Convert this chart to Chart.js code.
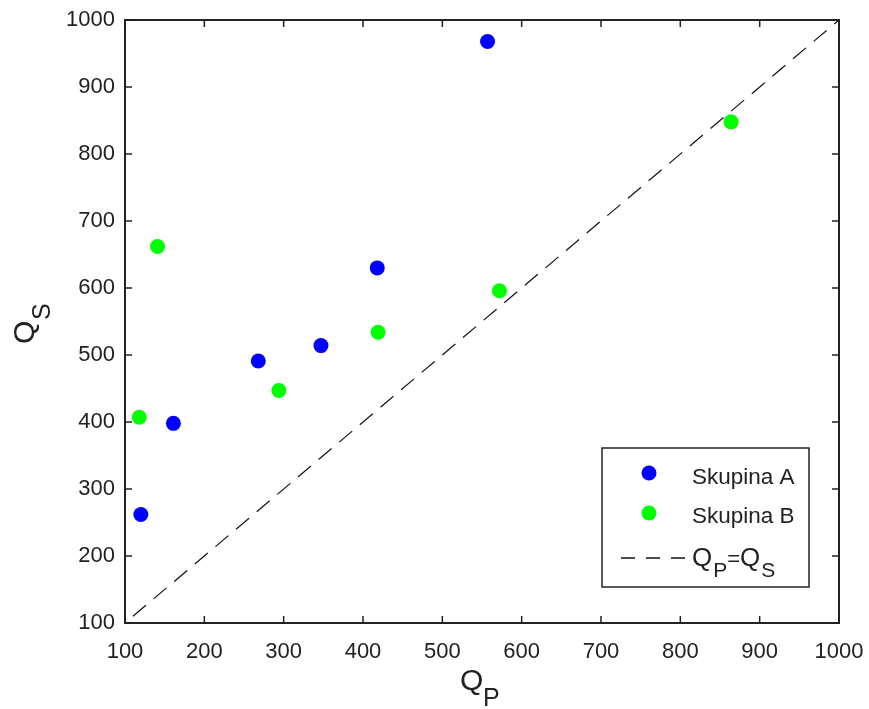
<!DOCTYPE html>
<html>
<head>
<meta charset="utf-8">
<script src="https://cdn.jsdelivr.net/npm/chart.js@4.4.0/dist/chart.umd.min.js"></script>
<style>
html,body{margin:0;padding:0;background:#fff;}
#wrap{width:869px;height:709px;position:relative;}
</style>
</head>
<body>
<div id="wrap"><canvas id="c" width="869" height="709"></canvas></div>
<script>
// Data
const groupAX = [120, 161, 268, 347, 418, 557];
const groupAY = [262, 398, 491, 514, 630, 968];
const groupBX = [118, 141, 294, 419, 572, 864];
const groupBY = [407, 662, 447, 534, 596, 848];
const refLineX = [110, 1000];
const refLineY = [110, 1000];
const tickValues = [100, 200, 300, 400, 500, 600, 700, 800, 900, 1000];
const seriesNames = ['Skupina A', 'Skupina B'];
const axisMin = 100, axisMax = 1000;

const toPts = (xs, ys) => xs.map((x, i) => ({x: x, y: ys[i]}));
const FONT = '"Liberation Sans", Arial, sans-serif';
const INK = '#222';

const framePlugin = {
  id: 'frame',
  afterDraw(chart) {
    const ctx = chart.ctx;
    const a = chart.chartArea;
    const xs = chart.scales.x, ys = chart.scales.y;
    ctx.save();
    ctx.strokeStyle = INK;
    ctx.lineWidth = 2;
    ctx.strokeRect(a.left, a.top, a.right - a.left, a.bottom - a.top);
    ctx.lineWidth = 1.5;
    const tl = 7;
    ctx.beginPath();
    tickValues.forEach(v => {
      const px = xs.getPixelForValue(v);
      ctx.moveTo(px, a.bottom); ctx.lineTo(px, a.bottom - tl);
      ctx.moveTo(px, a.top); ctx.lineTo(px, a.top + tl);
      const py = ys.getPixelForValue(v);
      ctx.moveTo(a.left, py); ctx.lineTo(a.left + tl, py);
      ctx.moveTo(a.right, py); ctx.lineTo(a.right - tl, py);
    });
    ctx.stroke();

    // Axis titles with subscripts
    ctx.fillStyle = INK;
    ctx.textBaseline = 'alphabetic';
    ctx.textAlign = 'left';
    ctx.font = '30px ' + FONT;
    ctx.fillText('Q', 460, 690);
    ctx.font = '25px ' + FONT;
    ctx.fillText('P', 483, 706);

    ctx.save();
    ctx.translate(34, 344);
    ctx.rotate(-Math.PI / 2);
    ctx.font = '30px ' + FONT;
    ctx.fillText('Q', 0, 0);
    ctx.restore();
    ctx.save();
    ctx.translate(50, 320);
    ctx.rotate(-Math.PI / 2);
    ctx.font = '25px ' + FONT;
    ctx.fillText('S', 0, 0);
    ctx.restore();

    // Legend
    const L = 602, T = 448, R = 809, B = 587;
    ctx.fillStyle = '#fff';
    ctx.fillRect(L, T, R - L, B - T);
    ctx.strokeStyle = INK;
    ctx.lineWidth = 1.5;
    ctx.strokeRect(L, T, R - L, B - T);
    const ds = chart.data.datasets;
    ctx.fillStyle = ds[0].backgroundColor;
    ctx.beginPath(); ctx.arc(649, 473, 7.5, 0, Math.PI * 2); ctx.fill();
    ctx.fillStyle = ds[1].backgroundColor;
    ctx.beginPath(); ctx.arc(649, 513, 7.5, 0, Math.PI * 2); ctx.fill();
    ctx.fillStyle = INK;
    ctx.font = '22.5px ' + FONT;
    ctx.fillText(seriesNames[0], 692, 484);
    ctx.fillText(seriesNames[1], 692, 523);
    ctx.strokeStyle = '#111';
    ctx.lineWidth = 1.3;
    ctx.setLineDash([14, 11]);
    ctx.beginPath(); ctx.moveTo(621, 558); ctx.lineTo(685, 558); ctx.stroke();
    ctx.setLineDash([]);
    ctx.font = '26px ' + FONT;
    ctx.fillText('Q', 692, 566);
    let w = ctx.measureText('Q').width;
    ctx.font = '21px ' + FONT;
    ctx.fillText('P', 692 + w + 1, 577);
    let w2 = ctx.measureText('P').width;
    ctx.font = '22px ' + FONT;
    ctx.fillText('=', 692 + w + w2 + 1, 566);
    let w3 = ctx.measureText('=').width;
    ctx.font = '26px ' + FONT;
    ctx.fillText('Q', 692 + w + w2 + w3 + 1, 566);
    let w4 = ctx.measureText('Q').width;
    ctx.font = '21px ' + FONT;
    ctx.fillText('S', 692 + w + w2 + w3 + w4 + 2, 577);
    ctx.restore();
  }
};

new Chart(document.getElementById('c'), {
  type: 'scatter',
  data: {
    datasets: [
      {label: seriesNames[0], data: toPts(groupAX, groupAY), backgroundColor: '#0000ff', borderColor: '#0000ff',
       pointRadius: 7.5, pointHoverRadius: 7.5, borderWidth: 0},
      {label: seriesNames[1], data: toPts(groupBX, groupBY), backgroundColor: '#00ff00', borderColor: '#00ff00',
       pointRadius: 7.5, pointHoverRadius: 7.5, borderWidth: 0},
      {label: 'QP=QS', type: 'line', data: toPts(refLineX, refLineY), borderColor: '#111', borderWidth: 1.2,
       borderDash: [17, 10], pointRadius: 0, fill: false, showLine: true}
    ]
  },
  options: {
    responsive: false,
    animation: false,
    events: [],
    layout: {padding: {top: 20, right: 30, left: 0, bottom: 0}},
    plugins: {legend: {display: false}, tooltip: {enabled: false}},
    scales: {
      x: {
        type: 'linear', min: axisMin, max: axisMax,
        afterBuildTicks: s => { s.ticks = tickValues.map(v => ({value: v})); },
        afterFit: s => { s.height = 86; s.paddingLeft = 0; s.paddingRight = 0; },
        grid: {display: false, drawTicks: false},
        border: {display: false},
        ticks: {color: INK, font: {family: FONT, size: 22}, padding: 16, maxRotation: 0, autoSkip: false,
                callback: v => String(v)}
      },
      y: {
        type: 'linear', min: axisMin, max: axisMax,
        afterBuildTicks: s => { s.ticks = tickValues.map(v => ({value: v})); },
        afterFit: s => { s.width = 125; s.paddingTop = 0; s.paddingBottom = 0; },
        grid: {display: false, drawTicks: false},
        border: {display: false},
        ticks: {color: INK, font: {family: FONT, size: 22}, padding: 10, autoSkip: false,
                callback: v => String(v)}
      }
    }
  },
  plugins: [framePlugin]
});
</script>
</body>
</html>
